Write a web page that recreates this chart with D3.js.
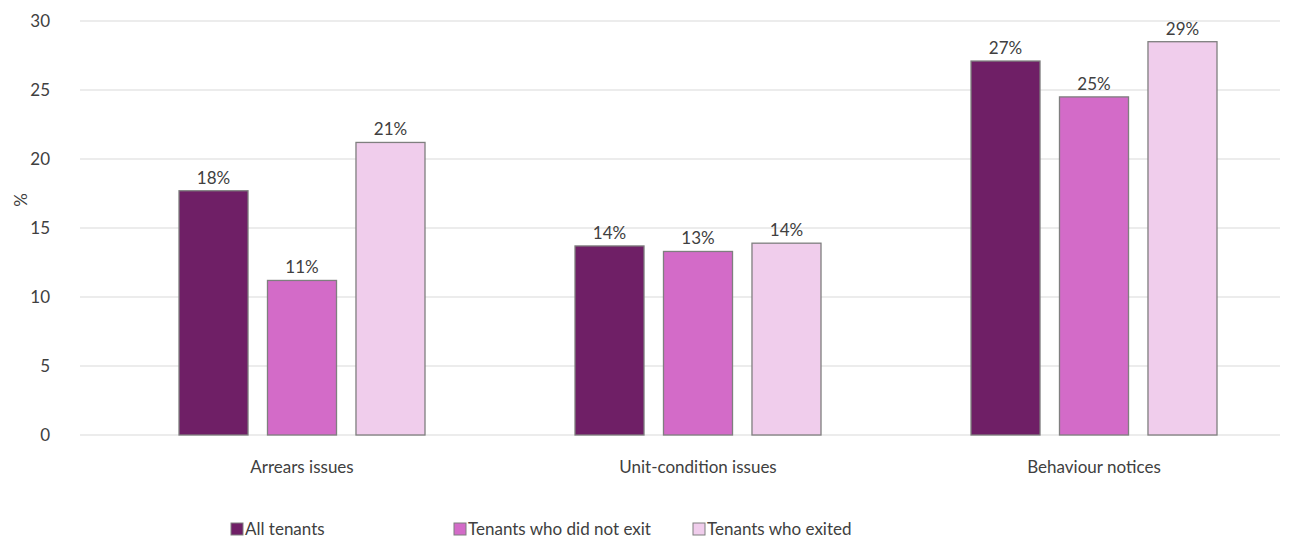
<!DOCTYPE html><html><head><meta charset="utf-8">
<script src="https://cdn.jsdelivr.net/npm/d3@7"></script>
<style>body{margin:0;background:#fff}text{font-family:Lato,"Open Sans",sans-serif;fill:#404040}</style></head><body>
<svg id="c" width="1289" height="542"></svg>
<script>
const categories=["Arrears issues","Unit-condition issues","Behaviour notices"];
const seriesNames=["All tenants","Tenants who did not exit","Tenants who exited"];
const allTenants=[17.7,13.7,27.1];
const notExit=[11.2,13.3,24.5];
const exited=[21.2,13.9,28.5];
const labelsAll=["18%","14%","27%"],labelsNot=["11%","13%","25%"],labelsEx=["21%","14%","29%"];
const yTicks=[0,5,10,15,20,25,30];
const colors=["#6f1f66","#d36bc8","#f0cdec"];
const series=[allTenants,notExit,exited],labels=[labelsAll,labelsNot,labelsEx];
const svg=d3.select("#c");
const y=d3.scaleLinear().domain([0,30]).range([435,21]);
const x=d3.scaleBand().domain(categories).range([104,1292]);
const xs=d3.scaleBand().domain([0,1,2]).range([0,246]).paddingInner(0.22);
yTicks.forEach(t=>{svg.append("line").attr("x1",80).attr("x2",1280).attr("y1",y(t)).attr("y2",y(t)).attr("stroke","#d9d9d9");
svg.append("text").attr("x",50).attr("y",y(t)+6).attr("text-anchor","end").attr("font-size",17).text(t);});
categories.forEach((c,ci)=>{const x0=x(c)+x.bandwidth()/2-123;
series.forEach((s,si)=>{const bx=x0+xs(si);
svg.append("rect").attr("x",bx).attr("y",y(s[ci])).attr("width",xs.bandwidth()).attr("height",y(0)-y(s[ci])).attr("fill",colors[si]).attr("stroke","#7f7f7f").attr("stroke-width",1.3);
svg.append("text").attr("x",bx+xs.bandwidth()/2).attr("y",y(s[ci])-7).attr("text-anchor","middle").attr("font-size",17).text(labels[si][ci]);});
svg.append("text").attr("x",x(c)+x.bandwidth()/2).attr("y",473).attr("text-anchor","middle").attr("font-size",17).text(c);});
svg.append("text").attr("transform","translate(27,200) rotate(-90)").attr("text-anchor","middle").attr("font-size",17).text("%");
const lx=[231,454,693];
seriesNames.forEach((n,i)=>{svg.append("rect").attr("x",lx[i]).attr("y",523).attr("width",12).attr("height",12).attr("fill",colors[i]).attr("stroke","#7f7f7f");
svg.append("text").attr("x",lx[i]+14).attr("y",535).attr("font-size",17).text(n);});
</script></body></html>
